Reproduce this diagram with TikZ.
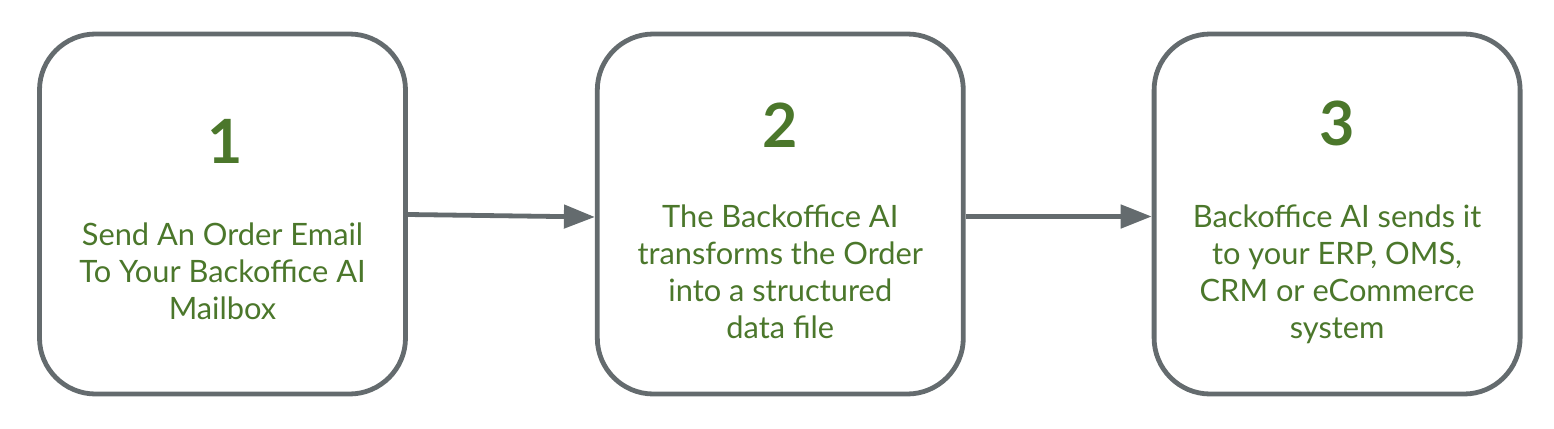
\documentclass[tikz,border=0pt]{standalone}
\usepackage{fontspec}
\setmainfont{Lato}
\usepackage{xcolor}
\usetikzlibrary{arrows.meta,positioning}
\definecolor{stepgreen}{HTML}{4B772B}
\definecolor{framegray}{HTML}{646B6E}

\begin{document}
\begin{tikzpicture}[
    x=1pt, y=-1pt,
    node distance=8mm and 187pt,
    box/.style={
      draw=framegray, line width=4.8pt, rounded corners=56pt,
      minimum width=366pt, minimum height=360pt
    },
    stepnum/.style={
      text=stepgreen, font=\fontsize{61}{61}\selectfont\bfseries,
      inner sep=0pt, anchor=base
    },
    desc/.style={
      text=stepgreen, font=\fontsize{30.8}{37}\selectfont,
      align=center, inner sep=0pt, anchor=north
    },
    arrow/.style={-{Triangle[length=31pt,width=23pt]},line width=4.8pt,draw=framegray}
  ]
    \useasboundingbox (0,0) rectangle (1554,428);

    \node[box] (order) at (222.5,214) {};
    \node[box,right=of order] (transform) {};
    \node[box,right=186pt of transform] (send) {};

    \node[stepnum] (num1) at ([xshift=2.5pt,yshift=51pt]order.center) {1};
    \node[stepnum] (num2) at ([yshift=67pt]transform.center) {2};
    \node[stepnum] (num3) at ([yshift=69pt]send.center) {3};

    \node[desc] (txt1) at ([yshift=-9pt]order.center)
      {Send An Order Email\\To Your Backoffice AI\\Mailbox};
    \node[desc] (txt2) at ([yshift=9pt]transform.center)
      {The Backoffice AI\\transforms the Order\\into a structured\\data file};
    \node[desc] (txt3) at ([yshift=9pt]send.center)
      {Backoffice AI sends it\\to your ERP, OMS,\\CRM or eCommerce\\system};

    \draw[arrow] ([yshift=-0.5pt]order.east) -- ([yshift=-3pt]transform.west);
    \draw[arrow] ([yshift=-2.5pt]transform.east) -- ([yshift=-2.5pt]send.west);
  \end{tikzpicture}
\end{document}
